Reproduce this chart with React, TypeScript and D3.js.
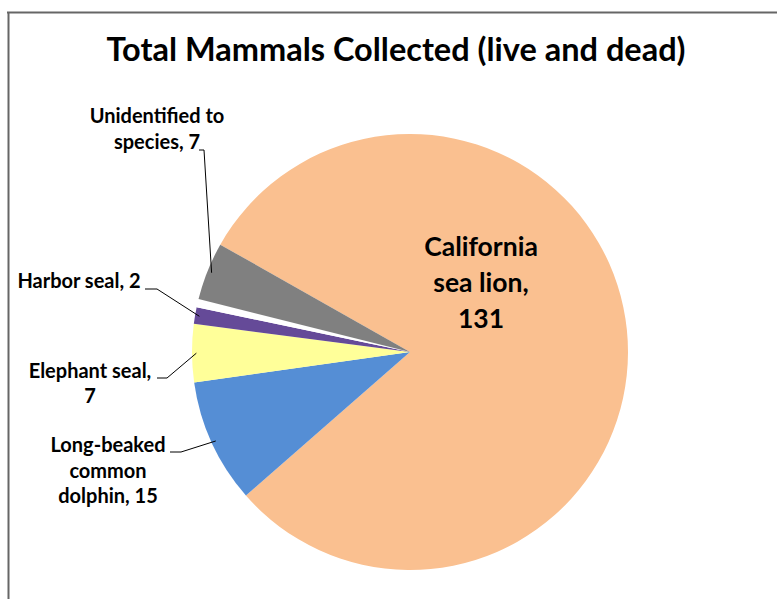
import React from 'react';
import * as d3 from 'd3';

// values
const species = [
  'California sea lion',
  'Long-beaked common dolphin',
  'Elephant seal',
  'Harbor seal',
  'Other',
  'Unidentified to species',
];
const counts = [131, 15, 7, 2, 1, 7];
const sliceColors = ['#FAC090', '#558ED5', '#FFFF99', '#654A98', '#FFFFFF', '#808080'];
const labelLines = [
  ['California', 'sea lion,', '131'],
  ['Long-beaked', 'common', 'dolphin, 15'],
  ['Elephant seal,', '7'],
  ['Harbor seal, 2'],
  [],
  ['Unidentified to', 'species, 7'],
];

const width = 777;
const height = 599;
const cx = 410;
const cy = 352;
const radius = 218;
const startDeg = -60.5;
const font = 'Lato, "Open Sans", sans-serif';

// label placement (text anchor + leader elbow), matched to the reference
const labelLayout = [
  { x: 481, y: 256, dy: 36, size: 26.5, elbow: null },
  { x: 108, y: 452, dy: 25.5, size: 20, elbow: [[170, 452], [181, 452]] },
  { x: 90, y: 378, dy: 25, size: 20, elbow: [[157, 378], [167, 378]] },
  { x: 79, y: 288, dy: 25, size: 20, elbow: [[145, 289], [157, 289]] },
  null,
  { x: 157, y: 123, dy: 25.5, size: 20, elbow: [[199, 150], [204, 150]] },
];

const App: React.FC = () => {
  const data = species.map((name, i) => ({ name, value: counts[i], i }));

  const pie = d3
    .pie<{ name: string; value: number; i: number }>()
    .sort(null)
    .value((d) => d.value)
    .startAngle((startDeg * Math.PI) / 180)
    .endAngle((startDeg * Math.PI) / 180 + 2 * Math.PI);

  const arcs = pie(data);

  const arc = d3
    .arc<d3.PieArcDatum<{ name: string; value: number; i: number }>>()
    .innerRadius(0)
    .outerRadius(radius);

  // where the leader lines touch the slices
  const edgeArc = d3
    .arc<d3.PieArcDatum<{ name: string; value: number; i: number }>>()
    .innerRadius(radius * 0.98)
    .outerRadius(radius * 0.98);

  const line = d3.line();

  return (
    <div style={{ position: 'absolute', left: 0, top: 0 }}>
      <svg width={width} height={height} style={{ display: 'block' }}>
        <rect x={0} y={0} width={width} height={height} fill="#ffffff" />
        {/* chart frame, only top and left edges show in the crop */}
        <line x1={7} y1={12.5} x2={width} y2={12.5} stroke="#666" strokeWidth={2} />
        <line x1={8.5} y1={12} x2={8.5} y2={height} stroke="#666" strokeWidth={2} />

        <text
          x={396}
          y={61}
          textAnchor="middle"
          fontFamily={font}
          fontWeight="bold"
          fontSize={32.5}
          fill="#000"
        >
          Total Mammals Collected (live and dead)
        </text>

        <g transform={`translate(${cx},${cy})`}>
          {arcs.map((a) => (
            <path key={a.data.name} d={arc(a) || ''} fill={sliceColors[a.data.i]} />
          ))}
        </g>

        {arcs.map((a) => {
          const lay = labelLayout[a.data.i];
          if (!lay || !lay.elbow) return null;
          const [ex, ey] = edgeArc.centroid(a);
          const pts: [number, number][] = [
            lay.elbow[0] as [number, number],
            lay.elbow[1] as [number, number],
            [cx + ex, cy + ey],
          ];
          return (
            <path
              key={'leader-' + a.data.name}
              d={line(pts) || ''}
              fill="none"
              stroke="#000"
              strokeWidth={1}
            />
          );
        })}

        {arcs.map((a) => {
          const lay = labelLayout[a.data.i];
          if (!lay) return null;
          return (
            <text
              key={'label-' + a.data.name}
              textAnchor="middle"
              fontFamily={font}
              fontWeight="bold"
              fontSize={lay.size}
              fill="#000"
            >
              {labelLines[a.data.i].map((t, j) => (
                <tspan key={j} x={lay.x} y={lay.y + j * lay.dy}>
                  {t}
                </tspan>
              ))}
            </text>
          );
        })}
      </svg>
    </div>
  );
};

export default App;
